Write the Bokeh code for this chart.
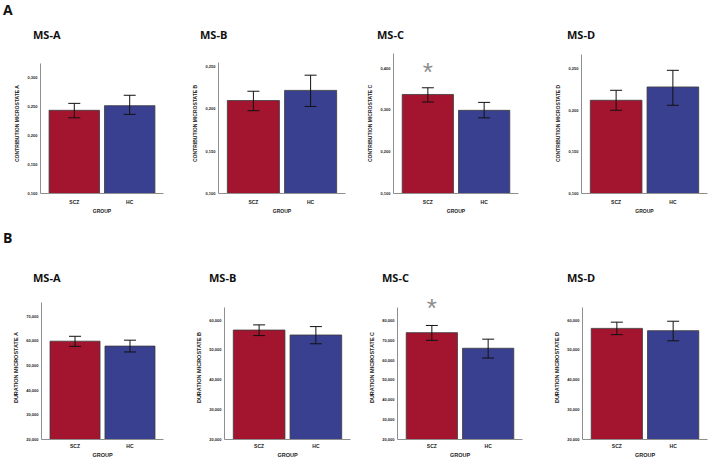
from bokeh.plotting import figure
from bokeh.layouts import row, column
from bokeh.models import (Range1d, FactorRange, FixedTicker, ColumnDataSource,
                          Whisker, TeeHead, Label, Div)
from bokeh.embed import file_html
from bokeh.resources import INLINE

# ---------------- data ----------------
groups = ["SCZ", "HC"]
panels = ["MS-A", "MS-B", "MS-C", "MS-D"]
states = ["A", "B", "C", "D"]
section_labels = ["A", "B"]

# Panel A: contribution (mean, 95% CI)
contrib_scz = [0.244, 0.210, 0.337, 0.212]
contrib_scz_lo = [0.231, 0.198, 0.319, 0.200]
contrib_scz_hi = [0.256, 0.221, 0.353, 0.224]
contrib_hc = [0.252, 0.222, 0.299, 0.228]
contrib_hc_lo = [0.237, 0.203, 0.281, 0.206]
contrib_hc_hi = [0.270, 0.240, 0.318, 0.248]
contrib_ymin = [0.100, 0.100, 0.100, 0.100]
contrib_ymax = [0.325, 0.255, 0.435, 0.267]
contrib_ticks = [
    [0.100, 0.150, 0.200, 0.250, 0.300],
    [0.100, 0.150, 0.200, 0.250],
    [0.100, 0.200, 0.300, 0.400],
    [0.100, 0.150, 0.200, 0.250],
]
contrib_tick_labels = [
    ["0,100", "0,150", "0,200", "0,250", "0,300"],
    ["0,100", "0,150", "0,200", "0,250"],
    ["0,100", "0,200", "0,300", "0,400"],
    ["0,100", "0,150", "0,200", "0,250"],
]

# Panel B: duration (mean, 95% CI)
dur_scz = [59850, 56640, 73790, 57200]
dur_scz_lo = [57730, 54790, 69900, 55100]
dur_scz_hi = [61830, 58370, 77400, 59280]
dur_hc = [57860, 54990, 65920, 56430]
dur_hc_lo = [55480, 52050, 61000, 53050]
dur_hc_hi = [60250, 57800, 70500, 59590]
dur_ymin = [20000, 20000, 20000, 20000]
dur_ymax = [75600, 64300, 86600, 64300]
dur_ticks = [
    [20000, 30000, 40000, 50000, 60000, 70000],
    [20000, 30000, 40000, 50000, 60000],
    [20000, 30000, 40000, 50000, 60000, 70000, 80000],
    [20000, 30000, 40000, 50000, 60000],
]
dur_tick_labels = [
    ["20,000", "30,000", "40,000", "50,000", "60,000", "70,000"],
    ["20,000", "30,000", "40,000", "50,000", "60,000"],
    ["20,000", "30,000", "40,000", "50,000", "60,000", "70,000", "80,000"],
    ["20,000", "30,000", "40,000", "50,000", "60,000"],
]

# significance marker (SCZ vs HC) for MS-C
star_panel = 2
star_group = "SCZ"
star_contrib_y = 0.398
star_dur_y = 88000

# ---------------- style ----------------
RED = "#A3142F"
BLUE = "#3A4090"
AXIS = "#8f8f8f"
TXT = "#222222"
TITLE_FONT = "Open Sans"
SMALL_FONT = "Liberation Sans"

# geometry per panel: width, height, left, right, top, bottom,
# px of (invisible) frame above the end of the y axis, title padding-left
geom_a = [
    (185, 176, 40, 22, 13, 23, 10, 33),
    (177, 176, 33, 17, 13, 23, 9, 15),
    (188, 176, 31, 32, 13, 23, 0, 15),
    (160, 176, 31, 3, 13, 23, 1, 17),
]
geom_b = [
    (185, 175, 41, 22, 10, 17, 7, 33),
    (180, 175, 39, 15, 10, 17, 12, 24),
    (185, 175, 32, 28, 10, 17, 12, 17),
    (160, 175, 32, 3, 10, 17, 12, 17),
]


def make_panel(ylabel, vals, los, his, ymin, ymax, ticks, tlabels, g,
               star_y=None, label_size="5px", xstand=4, star_shift=-3):
    W, H, L, R, T, B, extra, _ = g
    frame_h = H - T - B
    axis_h = frame_h - extra
    yend = ymax + (ymax - ymin) * extra / axis_h
    src = ColumnDataSource(dict(g=groups, v=vals, lo=los, hi=his, c=[RED, BLUE]))
    p = figure(width=W, height=H, x_range=FactorRange(*groups, range_padding=0.11),
               y_range=Range1d(ymin, yend), output_backend="svg",
               toolbar_location=None, title_location=None,
               min_border_left=L, min_border_right=R,
               min_border_top=T, min_border_bottom=B)
    p.outline_line_color = None
    p.background_fill_color = "white"
    p.border_fill_color = "white"
    p.grid.visible = False

    p.vbar(x="g", top="v", bottom=ymin, width=0.91, fill_color="c",
           line_color="#3a3a3a", line_width=0.8, source=src)
    w = Whisker(base="g", upper="hi", lower="lo", source=src, dimension="height",
                line_color="#111111", line_width=1, level="annotation",
                upper_head=TeeHead(size=12, line_color="#111111", line_width=1),
                lower_head=TeeHead(size=12, line_color="#111111", line_width=1))
    p.add_layout(w)

    if star_y is not None:
        # synthetic coordinate of the factor centre on the categorical axis
        sx = groups.index(star_group) + 0.5
        p.add_layout(Label(x=sx, y=star_y, text="*", text_align="center",
                           text_baseline="middle", text_font=SMALL_FONT,
                           text_font_size="26px", text_color="#8c8c8c",
                           y_offset=star_shift))

    for ax in (p.xaxis[0], p.yaxis[0]):
        ax.axis_line_color = AXIS
        ax.axis_line_width = 1
        ax.major_tick_line_color = None
        ax.minor_tick_line_color = None
        ax.major_tick_out = 0
        ax.major_tick_in = 0
        ax.minor_tick_out = 0
        ax.major_label_text_font = SMALL_FONT
        ax.major_label_text_color = TXT
        ax.axis_label_text_font = SMALL_FONT
        ax.axis_label_text_font_style = "bold"
        ax.axis_label_text_color = TXT
        ax.axis_label_text_font_size = label_size

    p.yaxis.ticker = FixedTicker(ticks=ticks)
    p.yaxis.bounds = (ymin, ymax)
    p.yaxis.major_label_overrides = dict(zip(ticks, tlabels))
    p.yaxis.major_label_text_font_size = "4px"
    p.yaxis.major_label_text_font_style = "bold"
    p.yaxis.major_label_standoff = 3
    p.yaxis.axis_label = ylabel
    p.yaxis.axis_label_standoff = 4

    p.xaxis.major_label_text_font_size = "5px"
    p.xaxis.major_label_text_font_style = "bold"
    p.xaxis.major_label_standoff = xstand
    p.xaxis.axis_label = "GROUP"
    p.xaxis.axis_label_standoff = 0
    return p


def title_div(text, width, height, pad_left, pad_top):
    style = (f"font-family:'Open Sans';font-weight:bold;font-size:11px;"
             f"line-height:11px;margin:0;color:#111;white-space:nowrap;"
             f"padding-left:{pad_left}px;padding-top:{pad_top}px")
    return Div(text=f"<div style=\"{style}\">{text}</div>", width=width,
               height=height, margin=0)


def section_div(text, height, pad_left, pad_top):
    style = (f"font-family:'Open Sans';font-weight:bold;font-size:14px;"
             f"line-height:14px;margin:0;color:#111;"
             f"padding-left:{pad_left}px;padding-top:{pad_top}px")
    return Div(text=f"<div style=\"{style}\">{text}</div>", width=60,
               height=height, margin=0)


row_a, row_b, titles_a, titles_b = [], [], [], []
for i in range(4):
    row_a.append(make_panel("CONTRIBUTION MICROSTATE " + states[i],
                            [contrib_scz[i], contrib_hc[i]],
                            [contrib_scz_lo[i], contrib_hc_lo[i]],
                            [contrib_scz_hi[i], contrib_hc_hi[i]],
                            contrib_ymin[i], contrib_ymax[i],
                            contrib_ticks[i], contrib_tick_labels[i], geom_a[i],
                            star_y=star_contrib_y if i == star_panel else None,
                            label_size="5px", xstand=5, star_shift=-3))
    row_b.append(make_panel("DURATION MICROSTATE " + states[i],
                            [dur_scz[i], dur_hc[i]],
                            [dur_scz_lo[i], dur_hc_lo[i]],
                            [dur_scz_hi[i], dur_hc_hi[i]],
                            dur_ymin[i], dur_ymax[i],
                            dur_ticks[i], dur_tick_labels[i], geom_b[i],
                            star_y=star_dur_y if i == star_panel else None,
                            label_size="5.5px", xstand=3, star_shift=-4))
    titles_a.append(title_div(panels[i], geom_a[i][0], 16, geom_a[i][7], 5))
    titles_b.append(title_div(panels[i], geom_b[i][0], 30, geom_b[i][7], 17))

layout = column(
    section_div(section_labels[0], 24, 3, 3),
    row(*titles_a, spacing=0),
    row(*row_a, spacing=0),
    section_div(section_labels[1], 39, 3, 15),
    row(*titles_b, spacing=0),
    row(*row_b, spacing=0),
    spacing=0,
)

open("out.html", "w").write(file_html(layout, INLINE))
